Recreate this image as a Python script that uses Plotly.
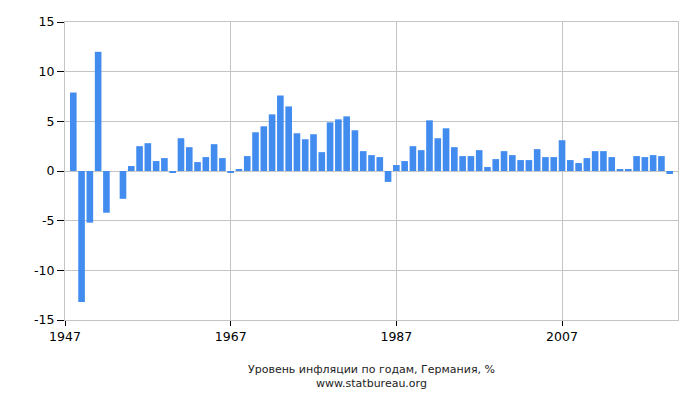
import plotly.graph_objects as go

# годы и инфляция (декабрь к декабрю), Германия, %
years = list(range(1948, 2021))
inflation = [
    7.9, -13.2, -5.2, 12.0, -4.2, 0.0, -2.8, 0.5, 2.5, 2.8,
    1.0, 1.3, -0.2, 3.3, 2.4, 0.9, 1.4, 2.7, 1.3, -0.2,
    0.2, 1.5, 3.9, 4.5, 5.7, 7.6, 6.5, 3.8, 3.2, 3.7,
    1.9, 4.9, 5.2, 5.5, 4.1, 2.0, 1.6, 1.4, -1.1, 0.6,
    1.0, 2.5, 2.1, 5.1, 3.3, 4.3, 2.4, 1.5, 1.5, 2.1,
    0.4, 1.2, 2.0, 1.6, 1.1, 1.1, 2.2, 1.4, 1.4, 3.1,
    1.1, 0.8, 1.3, 2.0, 2.0, 1.4, 0.2, 0.2, 1.5, 1.4,
    1.6, 1.5, -0.3,
]
x_ticks = [1947, 1967, 1987, 2007]
y_ticks = [-15, -10, -5, 0, 5, 10, 15]

fig = go.Figure(go.Bar(x=years, y=inflation, marker_color="#428cf0",
                       marker_line_width=0))

fig.update_layout(
    width=700, height=400,
    margin=dict(l=57, r=30, t=14, b=88, autoexpand=False),
    paper_bgcolor="white", plot_bgcolor="white",
    bargap=0.2,
    showlegend=False,
    font=dict(family="DejaVu Sans", color="#000000"),
)

fig.update_xaxes(
    range=[1947, 2021], tickvals=x_ticks, ticktext=[str(v) for v in x_ticks],
    automargin=False,
    showgrid=True, gridcolor="#c4c4c4", gridwidth=1,
    showline=True, linecolor="#c4c4c4", linewidth=1, mirror=True,
    ticks="outside", ticklen=5, tickcolor="#000000",
    tickfont=dict(size=12.5), zeroline=False,
)
fig.update_yaxes(
    range=[-15, 15], tickvals=y_ticks, ticktext=[str(v) for v in y_ticks],
    automargin=False,
    showgrid=True, gridcolor="#c4c4c4", gridwidth=1,
    zeroline=True, zerolinecolor="#c4c4c4", zerolinewidth=1,
    showline=True, linecolor="#c4c4c4", linewidth=1, mirror=True,
    ticks="outside", ticklen=7, tickcolor="#000000",
    tickfont=dict(size=12.5),
)

# подпись снизу в две строки
fig.add_annotation(text="Уровень инфляции по годам, Германия, %<br>www.statbureau.org",
                   xref="paper", yref="paper", x=0.5, y=-0.19,
                   xanchor="center", yanchor="middle", showarrow=False,
                   font=dict(size=11, color="#222222"))

fig.write_html("out.html")
